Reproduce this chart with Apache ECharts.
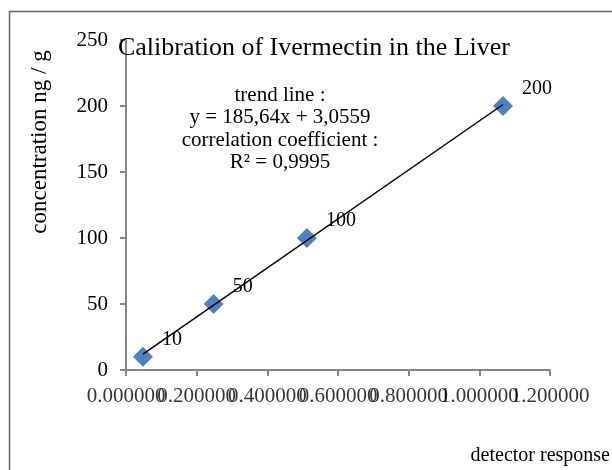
<!DOCTYPE html>
<html>
<head>
<meta charset="utf-8">
<script src="https://cdn.jsdelivr.net/npm/echarts@6/dist/echarts.min.js"></script>
<style>html,body{margin:0;padding:0;background:#fff}#c{width:612px;height:470px}</style>
</head>
<body>
<div id="c"></div>
<script>
// Data
const detectorResponse = [0.048, 0.248, 0.512, 1.067];
const concentration = [10, 50, 100, 200];
const pointLabels = ["10", "50", "100", "200"];
const trendSlope = 185.64;
const trendIntercept = 3.0559;
const xTickValues = [0, 0.2, 0.4, 0.6, 0.8, 1.0, 1.2];
const xTickLabels = ["0.000000", "0.200000", "0.400000", "0.600000", "0.800000", "1.000000", "1.200000"];
const annotationLines = ["trend line :", "y = 185,64x + 3,0559", "correlation coefficient :", "R\u00b2 = 0,9995"];
const titleText = "Calibration of Ivermectin in the Liver";
const yAxisName = "concentration ng / g";
const xAxisName = "detector response";

const font = "Liberation Serif";
const chart = echarts.init(document.getElementById('c'), null, {renderer: 'canvas'});

const xMin = Math.min(...detectorResponse), xMax = Math.max(...detectorResponse);
const trendData = [[xMin, trendSlope * xMin + trendIntercept], [xMax, trendSlope * xMax + trendIntercept]];

const axisLineStyle = {color: '#868686', width: 2};

chart.setOption({
  animation: false,
  backgroundColor: '#fff',
  grid: {left: 126, right: 62, top: 40, bottom: 100, containLabel: false},
  xAxis: {
    type: 'value', min: 0, max: 1.2, interval: 0.2,
    axisLine: {show: true, lineStyle: axisLineStyle},
    axisTick: {show: true, length: 6, lineStyle: axisLineStyle},
    splitLine: {show: false},
    axisLabel: {show: false}
  },
  yAxis: {
    type: 'value', min: 0, max: 250, interval: 50,
    axisLine: {show: true, lineStyle: axisLineStyle},
    axisTick: {show: true, length: 6, lineStyle: axisLineStyle},
    splitLine: {show: false},
    axisLabel: {fontFamily: font, fontSize: 21, color: '#000', margin: 18}
  },
  series: [
    {
      type: 'line', data: trendData, symbol: 'none',
      lineStyle: {color: '#000', width: 1.5}, z: 3, silent: true
    },
    {
      type: 'scatter', symbol: 'diamond', symbolSize: 20,
      data: detectorResponse.map((x, i) => [x, concentration[i]]),
      itemStyle: {color: '#4F81BD', opacity: 1}, z: 2,
      label: {
        show: true, position: 'right', offset: [4, -17],
        formatter: p => pointLabels[p.dataIndex],
        fontFamily: font, fontSize: 20, color: '#000', textBorderWidth: 0, opacity: 1
      }
    },
    {
      // x-axis tick labels, placed through the x scale
      type: 'scatter', symbolSize: 0, clip: false, silent: true, z: 1,
      data: xTickValues.map(v => [v, 0]),
      itemStyle: {color: 'transparent'},
      labelLayout: {hideOverlap: false},
      label: {
        show: true, position: 'bottom', distance: 16,
        formatter: p => xTickLabels[p.dataIndex],
        fontFamily: font, fontSize: 21, color: '#000', textBorderWidth: 0
      }
    }
  ],
  graphic: [
    {type: 'rect', shape: {x: 9.5, y: 11.5, width: 640, height: 500},
     style: {fill: 'none', stroke: '#666', lineWidth: 1.5}, silent: true},
    {type: 'text', x: 314, y: 48, z: 10,
     style: {text: titleText, fontFamily: font, fontSize: 26, fill: '#000', align: 'center', verticalAlign: 'middle'}},
    {type: 'text', x: 40, y: 142, rotation: Math.PI / 2,
     style: {text: yAxisName, fontFamily: font, fontSize: 23, fill: '#000', align: 'center', verticalAlign: 'middle'}},
    {type: 'text', x: 610, y: 456,
     style: {text: xAxisName, fontFamily: font, fontSize: 20, fill: '#000', align: 'right', verticalAlign: 'middle'}},
    {type: 'text', x: 280, y: 129,
     style: {text: annotationLines.join('\n'), fontFamily: font, fontSize: 21, lineHeight: 22.5, fill: '#000', align: 'center', verticalAlign: 'middle'}}
  ]
});
</script>
</body>
</html>
